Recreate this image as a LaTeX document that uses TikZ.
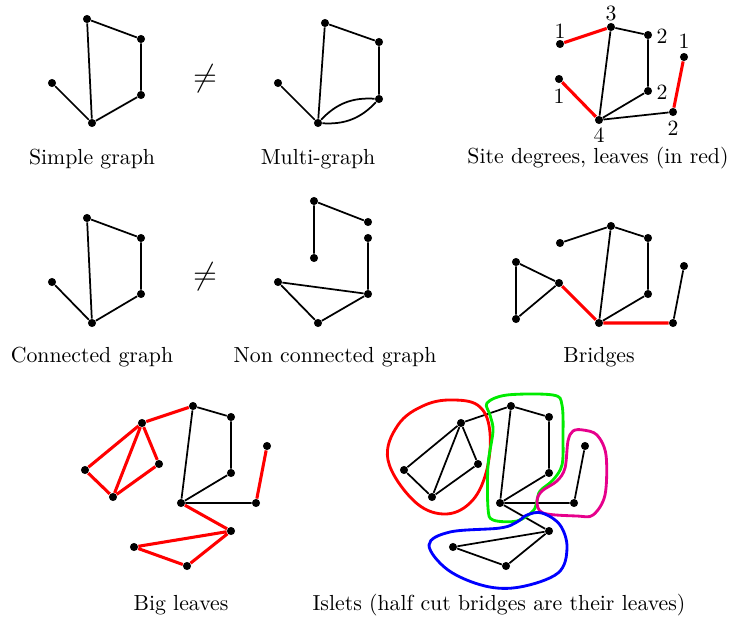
\documentclass[tikz,border=0pt]{standalone}
\definecolor{islmag}{RGB}{230,0,140}
\definecolor{islgreen}{RGB}{0,235,0}
\begin{document}
\begin{tikzpicture}[x=0.459pt,y=-0.459pt,
  dot/.style={circle, fill=black, inner sep=0pt, minimum size=3.7pt},
  edge/.style={line width=0.8pt},
  redge/.style={line width=1.4pt, red},
  capt/.style={anchor=base, inner sep=0pt},
  deg/.style={inner sep=0pt},
  isl/.style={line width=1.3pt}]
\useasboundingbox (0,0) rectangle (732,622);

% ---------- Simple graph
\node[dot] (s1) at (87,19) {};
\node[dot] (s2) at (141,39) {};
\node[dot] (s3) at (141,95) {};
\node[dot] (s4) at (92,123) {};
\node[dot] (s5) at (52,83) {};
\draw[edge] (s5)--(s4) (s4)--(s1) (s1)--(s2) (s2)--(s3) (s3)--(s4);
\node (ne1) at (205,79) {\Large$\neq$};
\node[capt] (c1) at (92,164) {Simple graph};

% ---------- Multi-graph
\node[dot] (m1) at (325,23) {};
\node[dot] (m2) at (379,42) {};
\node[dot] (m3) at (379,99) {};
\node[dot] (m4) at (318,123) {};
\node[dot] (m5) at (278,83) {};
\draw[edge] (m5)--(m4) (m4)--(m1) (m1)--(m2) (m2)--(m3);
\draw[edge] (m4) to[bend left=25] (m3);
\draw[edge] (m4) to[bend right=25] (m3);
\node[capt] (c2) at (318,164) {Multi-graph};

% ---------- Site degrees
\node[dot] (d1) at (560,44) {};
\node[dot] (d2) at (611,27) {};
\node[dot] (d3) at (648,35) {};
\node[dot] (d4) at (648,91) {};
\node[dot] (d5) at (599,120) {};
\node[dot] (d6) at (559,79) {};
\node[dot] (d7) at (673,112) {};
\node[dot] (d8) at (684,57) {};
\draw[redge] (d1)--(d2) (d6)--(d5) (d7)--(d8);
\draw[edge] (d2)--(d3) (d3)--(d4) (d4)--(d5) (d5)--(d2) (d5)--(d7);
\node[deg] (l1) at (560,31) {1};
\node[deg] (l2) at (611,13) {3};
\node[deg] (l3) at (662,36) {2};
\node[deg] (l4) at (559,96) {1};
\node[deg] (l5) at (662,92) {2};
\node[deg] (l6) at (599,135) {4};
\node[deg] (l7) at (673,128) {2};
\node[deg] (l8) at (684,41) {1};
\node[capt] (c3) at (598,163) {Site degrees, leaves (in red)};

% ---------- Connected graph
\node[dot] (k1) at (87,218) {};
\node[dot] (k2) at (141,238) {};
\node[dot] (k3) at (141,294) {};
\node[dot] (k4) at (92,323) {};
\node[dot] (k5) at (52,282) {};
\draw[edge] (k5)--(k4) (k4)--(k1) (k1)--(k2) (k2)--(k3) (k3)--(k4);
\node (ne2) at (205,277) {\Large$\neq$};
\node[capt] (c4) at (92,362) {Connected graph};

% ---------- Non connected graph
\node[dot] (n1) at (314,201) {};
\node[dot] (n2) at (368,222) {};
\node[dot] (n3) at (314,258) {};
\node[dot] (n4) at (368,238) {};
\node[dot] (n5) at (368,294) {};
\node[dot] (n6) at (278,282) {};
\node[dot] (n7) at (318,323) {};
\draw[edge] (n1)--(n2) (n1)--(n3) (n4)--(n5) (n5)--(n6) (n6)--(n7) (n7)--(n5);
\node[capt] (c5) at (335,362) {Non connected graph};

% ---------- Bridges
\node[dot] (b1) at (560,243) {};
\node[dot] (b2) at (611,226) {};
\node[dot] (b3) at (648,238) {};
\node[dot] (b4) at (648,294) {};
\node[dot] (b5) at (599,323) {};
\node[dot] (b6) at (559,283) {};
\node[dot] (b7) at (516,262) {};
\node[dot] (b8) at (516,319) {};
\node[dot] (b9) at (673,323) {};
\node[dot] (b10) at (684,266) {};
\draw[edge] (b1)--(b2) (b2)--(b3) (b3)--(b4) (b4)--(b5) (b5)--(b2)
  (b7)--(b6) (b7)--(b8) (b8)--(b6) (b9)--(b10);
\draw[redge] (b6)--(b5) (b5)--(b9);
\node[capt] (c6) at (599,362) {Bridges};

% ---------- Big leaves
\node[dot] (g1) at (193,406) {};
\node[dot] (g2) at (231,417) {};
\node[dot] (g3) at (231,473) {};
\node[dot] (g4) at (181,503) {};
\node[dot] (g5) at (256,503) {};
\node[dot] (g6) at (267,446) {};
\node[dot] (g7) at (142,423) {};
\node[dot] (g8) at (85,470) {};
\node[dot] (g9) at (113,497) {};
\node[dot] (g10) at (159,464) {};
\node[dot] (g11) at (231,531) {};
\node[dot] (g12) at (134,547) {};
\node[dot] (g13) at (187,566) {};
\draw[edge] (g1)--(g2) (g2)--(g3) (g3)--(g4) (g4)--(g1) (g4)--(g5);
\draw[redge] (g7)--(g1) (g5)--(g6) (g7)--(g8) (g8)--(g9) (g7)--(g9)
  (g7)--(g10) (g10)--(g9) (g4)--(g11) (g11)--(g12) (g12)--(g13) (g13)--(g11);
\node[capt] (c7) at (181,610) {Big leaves};

% ---------- Islets
\node[dot] (i1) at (511,406) {};
\node[dot] (i2) at (549,417) {};
\node[dot] (i3) at (549,473) {};
\node[dot] (i4) at (500,503) {};
\node[dot] (i5) at (574,503) {};
\node[dot] (i6) at (585,446) {};
\node[dot] (i7) at (461,423) {};
\node[dot] (i8) at (404,470) {};
\node[dot] (i9) at (432,497) {};
\node[dot] (i10) at (478,464) {};
\node[dot] (i11) at (549,531) {};
\node[dot] (i12) at (453,547) {};
\node[dot] (i13) at (506,566) {};
\draw[edge] (i1)--(i2) (i2)--(i3) (i3)--(i4) (i4)--(i1) (i4)--(i5)
  (i7)--(i1) (i5)--(i6) (i7)--(i8) (i8)--(i9) (i7)--(i9)
  (i7)--(i10) (i10)--(i9) (i4)--(i11) (i11)--(i12) (i12)--(i13) (i13)--(i11);
\draw[isl, red] plot[smooth cycle, tension=0.65] coordinates {
  (455,400) (480,407) (490,433) (486,473) (470,503) (443,514)
  (413,500) (388,460) (398,425) (425,405)};
\draw[isl, islgreen] plot[smooth cycle, tension=0.55] coordinates {
  (487,403) (507,395) (553,395) (562,405) (563,438) (562,465)
  (553,480) (540,491) (537,501) (533,511) (517,521) (493,520)
  (488,508) (488,465) (493,431) (490,415)};
\draw[isl, islmag] plot[smooth cycle, tension=0.55] coordinates {
  (583,430) (597,435) (606,455) (605,495) (593,515) (577,516) (543,513)
  (537,501) (542,491) (557,481) (565,468) (568,441) (573,431)};
\draw[isl, blue] plot[smooth cycle, tension=0.6] coordinates {
  (527,515) (542,513) (560,525) (567,548) (558,573) (520,587) (485,586)
  (448,570) (429,545) (450,532) (500,528) (517,522)};
\node[capt] (c8) at (499,610) {Islets (half cut bridges are their leaves)};
\end{tikzpicture}
\end{document}
